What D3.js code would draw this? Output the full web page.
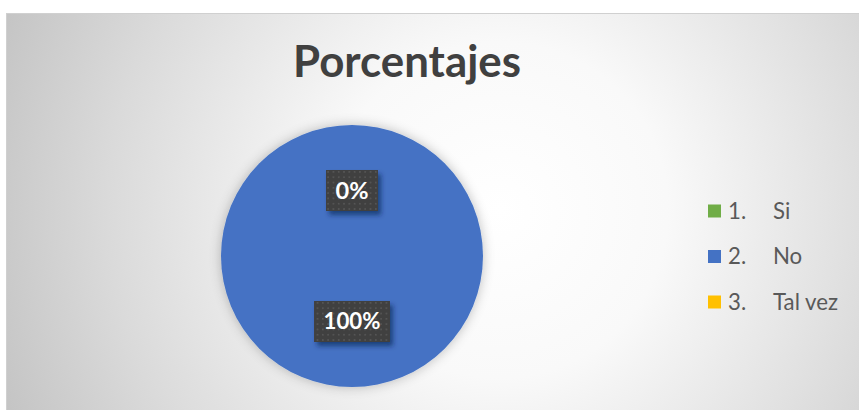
<!DOCTYPE html>
<html>
<head>
<meta charset="utf-8">
<script src="https://cdn.jsdelivr.net/npm/d3@7"></script>
<style>
  html, body { margin: 0; padding: 0; background: #ffffff; }
  svg { display: block; }
</style>
</head>
<body>
<svg id="chart" width="859" height="410"></svg>
<script>
// ---- data ----
const title = "Porcentajes";
const categories = ["1.", "2.", "3."];
const categoryNames = ["Si", "No", "Tal vez"];
const values = [0, 100, 0];
const colors = ["#70AD47", "#4472C4", "#FFC000"];

const W = 859, H = 410;
const svg = d3.select("#chart");
const defs = svg.append("defs");

// background gradient
const bg = defs.append("radialGradient").attr("id", "bgGrad")
  .attr("gradientUnits", "userSpaceOnUse")
  .attr("cx", 500).attr("cy", 210).attr("r", 560);
bg.append("stop").attr("offset", 0).attr("stop-color", "#ffffff");
bg.append("stop").attr("offset", 0.3).attr("stop-color", "#f9f9f9");
bg.append("stop").attr("offset", 0.7).attr("stop-color", "#dadada");
bg.append("stop").attr("offset", 1).attr("stop-color", "#c0c0c0");

// pie glow
const glow = defs.append("filter").attr("id", "pieGlow")
  .attr("x", "-20%").attr("y", "-20%").attr("width", "140%").attr("height", "140%");
glow.append("feGaussianBlur").attr("in", "SourceAlpha").attr("stdDeviation", 6).attr("result", "b");
glow.append("feFlood").attr("flood-color", "#000").attr("flood-opacity", 0.25).attr("result", "c");
glow.append("feComposite").attr("in", "c").attr("in2", "b").attr("operator", "in").attr("result", "s");
const gm = glow.append("feMerge");
gm.append("feMergeNode").attr("in", "s");
gm.append("feMergeNode").attr("in", "SourceGraphic");

// label shadow
const ls = defs.append("filter").attr("id", "lblShadow")
  .attr("x", "-30%").attr("y", "-30%").attr("width", "160%").attr("height", "170%");
ls.append("feGaussianBlur").attr("in", "SourceAlpha").attr("stdDeviation", 2.5).attr("result", "b");
ls.append("feOffset").attr("in", "b").attr("dx", 3).attr("dy", 4).attr("result", "o");
ls.append("feFlood").attr("flood-color", "#0a1f4a").attr("flood-opacity", 0.6).attr("result", "c");
ls.append("feComposite").attr("in", "c").attr("in2", "o").attr("operator", "in").attr("result", "s");
const lm = ls.append("feMerge");
lm.append("feMergeNode").attr("in", "s");
lm.append("feMergeNode").attr("in", "SourceGraphic");

// dotted pattern
const pat = defs.append("pattern").attr("id", "dots")
  .attr("patternUnits", "userSpaceOnUse").attr("width", 5.3).attr("height", 5.3);
pat.append("rect").attr("width", 5.3).attr("height", 5.3).attr("fill", "#404040");
pat.append("rect").attr("x", 1.8).attr("y", 1.8).attr("width", 1.6).attr("height", 1.6).attr("fill", "#575757");

// chart area
svg.append("rect").attr("x", 6.5).attr("y", 13.5).attr("width", W).attr("height", H)
  .attr("fill", "url(#bgGrad)").attr("stroke", "#d0d0d0").attr("stroke-width", 1);

const font = "Lato, 'Open Sans', 'DejaVu Sans', sans-serif";

function fitText(sel, targetW) {
  const fs = parseFloat(sel.attr("font-size"));
  const w = sel.node().getComputedTextLength();
  if (w > 0) sel.attr("font-size", fs * targetW / w);
}

// title
const t = svg.append("text").attr("x", 407).attr("y", 77)
  .attr("text-anchor", "middle").attr("font-family", font).attr("font-weight", "bold")
  .attr("font-size", 36).attr("fill", "#404040").text(title);
fitText(t, 228);

// pie
const cx = 352, cy = 256, R = 131;
const pie = d3.pie().sort(null).value(d => d);
const arcs = pie(values);
const arc = d3.arc().innerRadius(0).outerRadius(R);
const labelArc = d3.arc().innerRadius(R * 0.5).outerRadius(R * 0.5);
const total = d3.sum(values);

const g = svg.append("g").attr("transform", `translate(${cx},${cy})`);
g.append("g").attr("filter", "url(#pieGlow)")
  .selectAll("path").data(arcs).join("path")
  .attr("d", arc).attr("fill", (d, i) => colors[i]);

// labels (zero slices overlap at the top; draw one per position)
const fmt = d3.format(".0%");
const labels = arcs.map((d, i) => {
  const [x, y] = labelArc.centroid(d);
  return { x, y, text: fmt(d.value / total) };
});
const seen = new Set();
const uniq = labels.filter(l => {
  const k = Math.round(l.x) + "," + Math.round(l.y);
  if (seen.has(k)) return false; seen.add(k); return true;
});
const lg = g.selectAll("g.lbl").data(uniq).join("g").attr("class", "lbl")
  .attr("transform", d => `translate(${d.x},${d.y})`);
lg.each(function(d) {
  const s = d3.select(this);
  const txt = s.append("text").attr("text-anchor", "middle").attr("dy", "0.35em")
    .attr("font-family", font).attr("font-weight", "bold").attr("font-size", 22)
    .attr("fill", "#ffffff").text(d.text);
  fitText(txt, d.text.length === 4 ? 57 : 33);
  const w = txt.node().getComputedTextLength();
  s.insert("rect", "text").attr("x", -w / 2 - 9.5).attr("y", -20.5)
    .attr("width", w + 19).attr("height", 41)
    .attr("fill", "url(#dots)").attr("filter", "url(#lblShadow)");
});

// legend
const rowY = d3.scalePoint().domain(categories).range([211, 302]);
const leg = svg.append("g").selectAll("g").data(categories).join("g")
  .attr("transform", d => `translate(708,${rowY(d)})`);
leg.append("rect").attr("x", 0).attr("y", -6.5).attr("width", 13).attr("height", 13)
  .attr("fill", (d, i) => colors[i]);
const nums = leg.append("text").attr("x", 20).attr("dy", "0.35em")
  .attr("font-family", font).attr("font-size", 19).attr("fill", "#595959").text(d => d);
const names = leg.append("text").attr("x", 65).attr("dy", "0.35em")
  .attr("font-family", font).attr("font-size", 19).attr("fill", "#595959")
  .text((d, i) => categoryNames[i]);
// size legend font so "Tal vez" spans ~65px as in the reference
const tvw = names.filter((d, i) => i === 2).node().getComputedTextLength();
const legFs = 19 * 65 / tvw;
nums.attr("font-size", legFs);
names.attr("font-size", legFs);
</script>
</body>
</html>
